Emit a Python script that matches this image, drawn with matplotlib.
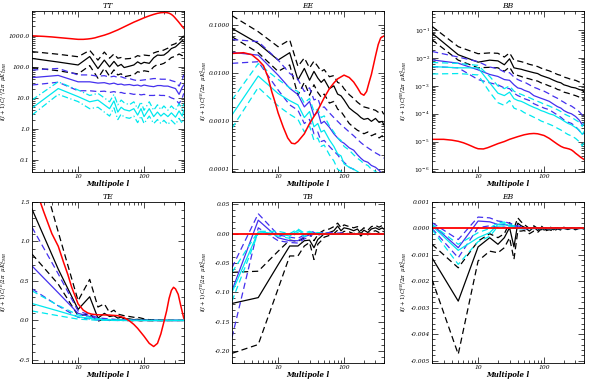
import matplotlib
matplotlib.use("Agg")
import matplotlib.pyplot as plt
from matplotlib.ticker import FixedLocator, FixedFormatter, AutoMinorLocator, NullFormatter, LogLocator

# multipole bins of the measured spectra and of the model curve
ell = [2, 5, 10, 15, 20, 25, 30, 35, 40, 45, 50, 60, 70, 80, 90, 100,
       120, 140, 160, 180, 200, 230, 260, 300, 340, 380, 400]
ell_th = [2, 3, 4, 5, 6, 7, 8, 9, 10, 12, 14, 16, 18, 20, 25, 30, 40, 50, 60, 70,
          80, 100, 120, 140, 160, 180, 200, 220, 240, 260, 280, 300, 330, 360, 400]

# ---- TT ----
tt_model = [1000, 960, 920, 880, 850, 825, 805, 785, 770, 770, 790, 820, 860, 920, 1050, 1200,
            1550, 1950, 2350, 2750, 3100, 3800, 4400, 4900, 5300, 5550, 5650, 5600, 5350, 4900,
            4300, 3650, 2900, 2300, 1750]
tt_black = [187, 143, 115, 215, 88, 165, 100, 150, 105, 120, 95, 105, 115, 145, 125, 140,
            130, 195, 240, 235, 240, 300, 390, 440, 560, 700, 650]
tt_black_hi = [310, 255, 212, 340, 165, 300, 190, 260, 190, 200, 180, 185, 195, 230, 215, 240,
               230, 280, 310, 320, 350, 400, 500, 560, 700, 900, 1000]
tt_black_lo = [94, 75, 59, 110, 43, 90, 50, 80, 55, 60, 48, 52, 55, 70, 65, 75,
               70, 100, 120, 120, 130, 160, 200, 220, 260, 230, 300]
tt_blue = [45, 53, 33, 33, 30, 31, 28, 30, 27, 28, 26, 27, 25, 26, 24, 26,
           24, 23, 25, 25, 24, 24, 22, 20, 13, 22, 26]
tt_blue_hi = [79, 89, 55, 55, 50, 52, 47, 50, 46, 48, 44, 42, 38, 36, 37, 38,
              40, 42, 42, 40, 40, 40, 36, 33, 24, 40, 55]
tt_blue_lo = [26, 32, 17, 17, 16, 16.5, 15, 16, 14.5, 15, 14, 14, 13, 13.5, 12.5, 13,
              12, 12, 12.5, 12, 12, 11.5, 10, 9, 6.5, 10, 14]
tt_cyan = [4.7, 20, 11, 7.5, 8.5, 6, 4.5, 8, 3.5, 5, 4.2, 3.8, 4.5, 2.8, 4.5, 2.5,
           4.5, 2.5, 3.5, 2.6, 3.2, 2.5, 3.3, 2.4, 3.8, 2.6, 4]
tt_cyan_hi = [8.6, 33, 18, 12, 14, 10, 7.5, 13, 6, 8.5, 7, 6, 7.5, 4.5, 7.5, 4,
              7.5, 4, 6, 4.2, 5.5, 4, 5.5, 4, 6.5, 4.3, 6.5]
tt_cyan_lo = [2.8, 13, 7.6, 4.5, 5, 3.5, 2.6, 4.8, 2, 3, 2.4, 2.2, 2.6, 1.6, 2.6, 1.5,
              2.6, 1.5, 2, 1.5, 1.9, 1.4, 1.9, 1.4, 2.2, 1.5, 2.4]

# ---- EE ----
ee_model = [0.026, 0.027, 0.0245, 0.019, 0.0145, 0.0085, 0.0042, 0.0025, 0.0015, 0.00075,
            0.00045, 0.00035, 0.00034, 0.00038, 0.00055, 0.0009, 0.0017, 0.0031, 0.0048, 0.0063,
            0.0077, 0.0092, 0.0082, 0.0066, 0.005, 0.0038, 0.0035, 0.0042, 0.0065, 0.0095,
            0.015, 0.023, 0.04, 0.055, 0.06]
ee_black = [0.087, 0.042, 0.019, 0.027, 0.0073, 0.0127, 0.0072, 0.011, 0.008, 0.0065, 0.0075,
            0.0048, 0.0055, 0.0037, 0.0034, 0.0028, 0.0019, 0.0016, 0.0014, 0.0012, 0.0011,
            0.00115, 0.001, 0.00115, 0.00095, 0.001, 0.00085]
ee_black_hi = [0.16, 0.074, 0.036, 0.05, 0.014, 0.021, 0.013, 0.018, 0.014, 0.011, 0.012,
               0.0085, 0.009, 0.0065, 0.006, 0.0048, 0.0036, 0.003, 0.0025, 0.0022, 0.002,
               0.0019, 0.0018, 0.0017, 0.0015, 0.0016, 0.0014]
ee_black_lo = [0.058, 0.027, 0.011, 0.015, 0.0035, 0.0065, 0.0035, 0.0058, 0.004, 0.0032, 0.0037,
               0.0024, 0.0026, 0.0018, 0.0016, 0.0013, 0.0009, 0.00075, 0.00065, 0.0006, 0.00055,
               0.0006, 0.0005, 0.00055, 0.00045, 0.0005, 0.00042]
ee_blue = [0.0274, 0.024, 0.0092, 0.0049, 0.0036, 0.002, 0.0026, 0.0013, 0.0016, 0.0009, 0.001,
           0.00075, 0.00055, 0.00045, 0.00038, 0.00035, 0.00028, 0.00025, 0.0002, 0.00017,
           0.00015, 0.00014, 0.00012, 0.00011, 0.000095, 0.00008, 0.00007]
ee_blue_hi = [0.051, 0.046, 0.019, 0.01, 0.0075, 0.0042, 0.005, 0.0028, 0.003, 0.0019, 0.002,
              0.0015, 0.0012, 0.001, 0.00085, 0.00075, 0.0006, 0.0005, 0.00042, 0.00036,
              0.00032, 0.00028, 0.00025, 0.00022, 0.0002, 0.00018, 0.00017]
ee_blue_lo = [0.0162, 0.0175, 0.0045, 0.0022, 0.0017, 0.0009, 0.0011, 0.00055, 0.0006, 0.00038,
              0.0004, 0.0003, 0.00024, 0.0002, 0.00016, 0.00014, 0.00011, 0.0001, 0.00008,
              0.00007, 0.00006, 0.00005, 0.00004, 0.00004, 0.00003, 0.00003, 0.00003]
ee_cyan = [0.00136, 0.0088, 0.0038, 0.0027, 0.0022, 0.0012, 0.0016, 0.00077, 0.0009, 0.0006,
           0.00065, 0.00041, 0.0003, 0.00021, 0.00019, 0.00013, 0.00011, 0.0001, 0.00009,
           0.00008, 0.00007, 0.00006, 0.00005, 0.00005, 0.00004, 0.00004, 0.00003]
ee_cyan_hi = [0.0028, 0.016, 0.0075, 0.005, 0.0042, 0.0024, 0.003, 0.0016, 0.0018, 0.0012,
              0.0013, 0.0008, 0.0006, 0.00045, 0.0004, 0.0003, 0.00025, 0.0002, 0.00017,
              0.00015, 0.00013, 0.00012, 0.0001, 0.00009, 0.00008, 0.00007, 0.00006]
ee_cyan_lo = [0.00072, 0.0051, 0.0021, 0.0014, 0.0011, 0.0006, 0.0008, 0.0004, 0.00045, 0.0003,
              0.00032, 0.0002, 0.00015, 0.0001, 0.00009, 0.00007, 0.00006, 0.00005, 0.00004,
              0.00004, 0.00003, 0.00003, 0.00002, 0.00002, 0.00002, 0.00002, 0.00002]

# ---- BB ----
bb_model = [1.2e-5, 1.2e-5, 1.12e-5, 1.02e-5, 9e-6, 7.8e-6, 6.8e-6, 6e-6, 5.5e-6, 5.4e-6,
            6e-6, 6.8e-6, 7.6e-6, 8.4e-6, 1.0e-5, 1.2e-5, 1.5e-5, 1.75e-5, 1.9e-5, 1.95e-5,
            1.9e-5, 1.65e-5, 1.3e-5, 1.0e-5, 8e-6, 6.7e-6, 6e-6, 5.7e-6, 5.4e-6, 5e-6,
            4.4e-6, 3.8e-6, 3.2e-6, 2.7e-6, 2.3e-6]
bb_black = [0.08, 0.0133, 0.0072, 0.0085, 0.008, 0.0058, 0.0095, 0.0045, 0.0042, 0.004, 0.0037,
            0.0033, 0.003, 0.0028, 0.0024, 0.0022, 0.0019, 0.0016, 0.0014, 0.0013, 0.0011,
            0.001, 0.0009, 0.00085, 0.00075, 0.0007, 0.00062]
bb_black_hi = [0.14, 0.026, 0.0145, 0.0155, 0.015, 0.011, 0.0155, 0.0085, 0.008, 0.0075, 0.007,
               0.006, 0.0055, 0.005, 0.0044, 0.004, 0.0035, 0.003, 0.0026, 0.0024, 0.0021,
               0.0019, 0.0017, 0.0016, 0.0014, 0.0013, 0.0011]
bb_black_lo = [0.046, 0.0085, 0.0045, 0.0047, 0.0045, 0.0034, 0.0048, 0.0026, 0.0024, 0.0022,
               0.002, 0.0018, 0.0016, 0.0015, 0.0013, 0.0012, 0.001, 0.0009, 0.00075, 0.0007,
               0.0006, 0.00055, 0.0005, 0.00045, 0.0004, 0.00038, 0.00032]
bb_blue = [0.0087, 0.0066, 0.0038, 0.0026, 0.0022, 0.0017, 0.0016, 0.0011, 0.00085, 0.0008,
           0.0007, 0.0006, 0.00045, 0.0004, 0.00036, 0.00033, 0.00028, 0.00022, 0.00018,
           0.00016, 0.00013, 0.00011, 0.0001, 0.00008, 0.00006, 0.00004, 0.000045]
bb_blue_hi = [0.0175, 0.011, 0.0075, 0.0048, 0.0042, 0.0032, 0.003, 0.0021, 0.0017, 0.0015,
              0.0014, 0.0011, 0.0009, 0.0008, 0.0007, 0.00065, 0.00052, 0.00042, 0.00036,
              0.0003, 0.00026, 0.00021, 0.00019, 0.00015, 0.00012, 0.00009, 0.0001]
bb_blue_lo = [0.005, 0.0045, 0.0017, 0.0013, 0.0011, 0.00085, 0.0008, 0.00055, 0.00045, 0.0004,
              0.00035, 0.0003, 0.00023, 0.0002, 0.00018, 0.00016, 0.00014, 0.00011, 0.00009,
              0.000075, 0.00006, 0.00005, 0.000045, 0.000035, 0.000025, 0.000018, 0.00002]
bb_cyan = [0.005, 0.0045, 0.0045, 0.0013, 0.00055, 0.00045, 0.0006, 0.00035, 0.0003, 0.00028,
           0.00025, 0.0002, 0.00017, 0.00015, 0.00013, 0.00012, 0.0001, 0.00009, 0.000075,
           0.000065, 0.000055, 0.000045, 0.00004, 0.000032, 0.000026, 0.000018, 0.000022]
bb_cyan_hi = [0.007, 0.0065, 0.0055, 0.0022, 0.001, 0.0008, 0.001, 0.00065, 0.00055, 0.0005,
              0.00045, 0.00038, 0.00032, 0.00028, 0.00025, 0.00022, 0.00019, 0.00016, 0.00014,
              0.00012, 0.0001, 0.000085, 0.000075, 0.00006, 0.00005, 0.000035, 0.000045]
bb_cyan_lo = [0.0027, 0.0028, 0.0025, 0.0006, 0.00025, 0.0002, 0.0003, 0.00016, 0.00014, 0.00013,
              0.00011, 0.00009, 0.000075, 0.000065, 0.000055, 0.00005, 0.000042, 0.000036,
              0.00003, 0.000026, 0.000022, 0.000018, 0.000016, 0.000013, 0.00001, 0.000007, 0.000009]

# ---- TE ----
te_model = [1.8, 1.38, 1.1, 0.94, 0.74, 0.58, 0.42, 0.31, 0.21, 0.13, 0.095, 0.08, 0.075, 0.072,
            0.07, 0.068, 0.06, 0.035, -0.005, -0.05, -0.1, -0.2, -0.29, -0.33, -0.29, -0.17,
            -0.02, 0.12, 0.28, 0.38, 0.42, 0.4, 0.33, 0.19, 0.03]
te_black = [1.41, 0.65, 0.14, 0.30, 0.03, 0.09, 0.05, 0.06, 0.03, 0.04, 0.02, 0.02, 0.01, 0.015,
            0.005, 0.01, 0.003, 0.0, 0.002, 0.0, 0.001, 0.0, 0.0, 0.0, 0.0, 0.0, 0.0]
te_black_hi = [2.3, 1.12, 0.25, 0.52, 0.17, 0.21, 0.1, 0.13, 0.08, 0.07, 0.06, 0.05, 0.04, 0.04,
               0.03, 0.02, 0.01, 0.01, 0.005, 0.005, 0.003, 0.002, 0.002, 0.001, 0.001, 0.001, 0.001]
te_black_lo = [0.84, 0.46, 0.06, 0.08, -0.01, 0.02, 0.0, 0.01, 0.0, 0.005, -0.005, 0.0, -0.005,
               0.0, -0.005, 0.0, -0.003, -0.004, -0.002, -0.003, -0.002, -0.001, -0.001, -0.001,
               -0.001, 0.0, 0.0]
te_blue = [0.69, 0.35, 0.09, 0.05, 0.02, 0.015, 0.01, 0.008, 0.005, 0.004, 0.003, 0.002, 0.001,
           0.001, 0.0, 0.0, 0.0, 0.0, 0.0, 0.0, 0.0, 0.0, 0.0, 0.0, 0.0, 0.0, 0.0]
te_blue_hi = [1.18, 0.59, 0.12, 0.07, 0.035, 0.025, 0.02, 0.015, 0.01, 0.008, 0.006, 0.004, 0.003,
              0.002, 0.002, 0.001, 0.001, 0.001, 0.0, 0.0, 0.0, 0.0, 0.0, 0.0, 0.0, 0.0, 0.0]
te_blue_lo = [0.4, 0.185, 0.04, 0.02, 0.005, 0.004, 0.0, 0.001, 0.0, 0.0, 0.0, 0.0, -0.001, 0.0,
              -0.001, 0.0, 0.0, 0.0, 0.0, 0.0, 0.0, 0.0, 0.0, 0.0, 0.0, 0.0, 0.0]
te_cyan = [0.215, 0.12, 0.046, 0.025, 0.012, 0.008, 0.005, 0.004, 0.003, 0.002, 0.002, 0.001,
           0.001, 0.0, 0.0, 0.0, 0.0, 0.0, 0.0, 0.0, 0.0, 0.0, 0.0, 0.0, 0.0, 0.0, 0.0]
te_cyan_hi = [0.375, 0.19, 0.07, 0.04, 0.02, 0.014, 0.01, 0.008, 0.006, 0.004, 0.004, 0.003,
              0.002, 0.001, 0.001, 0.001, 0.0, 0.0, 0.0, 0.0, 0.0, 0.0, 0.0, 0.0, 0.0, 0.0, 0.0]
te_cyan_lo = [0.12, 0.06, 0.017, 0.008, 0.003, 0.002, 0.001, 0.0, 0.0, 0.0, 0.0, 0.0, 0.0, 0.0,
              0.0, 0.0, 0.0, 0.0, 0.0, 0.0, 0.0, 0.0, 0.0, 0.0, 0.0, 0.0, 0.0]

# ---- TB ----
tb_model = 0.0
tb_black = [-0.119, -0.109, -0.053, -0.021, -0.021, -0.012, -0.011, -0.024, -0.01, -0.005, 0.0,
            0.002, 0.005, 0.013, 0.005, 0.01, 0.008, 0.005, 0.008, 0.0, 0.006, 0.002, 0.008,
            0.01, 0.007, 0.01, 0.008]
tb_black_hi = [-0.066, -0.064, -0.03, -0.011, -0.013, -0.007, 0.0, -0.012, -0.002, 0.003, 0.006,
               0.008, 0.012, 0.018, 0.01, 0.015, 0.012, 0.01, 0.012, 0.005, 0.01, 0.006, 0.012,
               0.014, 0.011, 0.014, 0.012]
tb_black_lo = [-0.204, -0.189, -0.094, -0.038, -0.038, -0.021, -0.015, -0.044, -0.018, -0.012,
               -0.006, -0.003, 0.0, 0.006, 0.0, 0.004, 0.003, 0.0, 0.003, -0.004, 0.001, -0.002,
               0.003, 0.005, 0.002, 0.005, 0.003]
tb_blue = [-0.097, 0.023, -0.007, -0.012, -0.012, -0.005, -0.002, 0.002, -0.001, 0.001, 0.0,
           0.001, 0.0, 0.0, 0.001, 0.0, 0.0, 0.0, 0.0, 0.0, 0.0, 0.0, 0.0, 0.0, 0.0, 0.0, 0.0]
tb_blue_hi = [-0.058, 0.034, -0.002, -0.006, -0.008, -0.002, 0.001, 0.004, 0.001, 0.002, 0.001,
              0.002, 0.001, 0.001, 0.001, 0.001, 0.0, 0.0, 0.0, 0.0, 0.0, 0.0, 0.0, 0.0, 0.0, 0.0, 0.0]
tb_blue_lo = [-0.177, 0.01, -0.012, -0.015, -0.016, -0.009, -0.005, 0.0, -0.003, -0.001, -0.001,
              0.0, -0.001, -0.001, 0.0, 0.0, 0.0, 0.0, 0.0, 0.0, 0.0, 0.0, 0.0, 0.0, 0.0, 0.0, 0.0]
tb_cyan = [-0.1, 0.003, 0.0, -0.004, 0.006, -0.002, 0.002, 0.0, 0.001, 0.0, 0.0, 0.0, 0.0, 0.0,
           0.0, 0.0, 0.0, 0.0, 0.0, 0.0, 0.0, 0.0, 0.0, 0.0, 0.0, 0.0, 0.0]
tb_cyan_hi = [-0.066, 0.004, 0.004, 0.0, 0.008, 0.001, 0.004, 0.001, 0.002, 0.001, 0.001, 0.0,
              0.0, 0.0, 0.0, 0.0, 0.0, 0.0, 0.0, 0.0, 0.0, 0.0, 0.0, 0.0, 0.0, 0.0, 0.0]
tb_cyan_lo = [-0.115, 0.001, -0.004, -0.008, 0.003, -0.005, 0.0, -0.001, 0.0, -0.001, 0.0, 0.0,
              0.0, 0.0, 0.0, 0.0, 0.0, 0.0, 0.0, 0.0, 0.0, 0.0, 0.0, 0.0, 0.0, 0.0, 0.0]

# ---- EB ----
eb_model = 0.0
eb_black = [-0.00111, -0.00275, -0.0007, -0.00035, -0.0006, -0.00035, 0.00003, -0.0007, 0.0002,
            0.0001, 0.00005, -0.0001, 0.00005, -0.00008, 0.00003, -0.00006, 0.0, -0.00005,
            0.00003, -0.00003, 0.00004, -0.00002, 0.00002, -0.00003, 0.00002, 0.0, -0.00002]
eb_black_hi = [-0.0006, -0.00149, -0.00048, -0.0002, -0.00035, -0.0002, 0.00022, 0.0, 0.0004,
               0.00025, 0.00015, 0.0, 0.0001, 0.0, 0.0001, 0.0, 0.00006, 0.0, 0.00005, 0.0,
               0.00004, 0.0, 0.00003, 0.0, 0.00003, 0.0, 0.00002]
eb_black_lo = [-0.00193, -0.00476, -0.00123, -0.00086, -0.00092, -0.00073, -0.00035, -0.00117,
               -0.0001, -0.0001, -0.00008, -0.0002, -0.0001, -0.00015, -0.00003, -0.0001,
               -0.00005, -0.0001, -0.00002, -0.00006, 0.0, -0.00004, 0.0, -0.00005, 0.0,
               -0.00003, -0.00004]
eb_blue = [0.00015, -0.00073, 0.00028, 0.00025, 0.00015, 0.00015, 0.0001, 0.00009, 0.00005,
           0.00003, 0.0, 0.0, 0.0, 0.0, 0.0, 0.0, 0.0, 0.0, 0.0, 0.0, 0.0, 0.0, 0.0, 0.0, 0.0, 0.0, 0.0]
eb_blue_hi = [0.00022, -0.00042, 0.00043, 0.0004, 0.00028, 0.00025, 0.0002, 0.00015, 0.0001,
              0.00006, 0.00003, 0.00002, 0.0, 0.0, 0.0, 0.0, 0.0, 0.0, 0.0, 0.0, 0.0, 0.0, 0.0,
              0.0, 0.0, 0.0, 0.0]
eb_blue_lo = [0.0, -0.00111, 0.00003, 0.0001, 0.00005, 0.00005, 0.0, 0.00002, 0.0, 0.0, -0.00002,
              0.0, 0.0, 0.0, 0.0, 0.0, 0.0, 0.0, 0.0, 0.0, 0.0, 0.0, 0.0, 0.0, 0.0, 0.0, 0.0]
eb_cyan = [0.0001, -0.00083, -0.00035, -0.00016, 0.00015, 0.00018, 0.0001, 0.00005, 0.00003,
           0.0, 0.0, 0.0, 0.0, 0.0, 0.0, 0.0, 0.0, 0.0, 0.0, 0.0, 0.0, 0.0, 0.0, 0.0, 0.0, 0.0, 0.0]
eb_cyan_hi = [0.00015, -0.0006, -0.00016, 0.0, 0.00022, 0.00024, 0.00015, 0.0001, 0.00005, 0.00002,
              0.0, 0.0, 0.0, 0.0, 0.0, 0.0, 0.0, 0.0, 0.0, 0.0, 0.0, 0.0, 0.0, 0.0, 0.0, 0.0, 0.0]
eb_cyan_lo = [-0.00004, -0.00136, -0.0005, -0.0003, 0.00008, 0.0001, 0.00005, 0.0, 0.0, -0.00002,
              0.0, 0.0, 0.0, 0.0, 0.0, 0.0, 0.0, 0.0, 0.0, 0.0, 0.0, 0.0, 0.0, 0.0, 0.0, 0.0, 0.0]

RED = "#ff0000"
BLUE = "#4430ee"
CYAN = "#00e8ee"
DASH = (0, (5, 3))
DASHDOT = (0, (5, 2, 1, 2))

plt.rcParams["font.family"] = ["DejaVu Serif"]
plt.rcParams["mathtext.fontset"] = "dejavuserif"

fig = plt.figure(figsize=(5.99, 3.82), dpi=100)
W, H = 599.0, 382.0
lefts = [32, 232, 432]
tops = [11, 202]
aw, ah = 152.3, 160.7


def make_ax(col, row):
    x0 = lefts[col] / W
    y0 = 1 - (tops[row] + ah) / H
    ax = fig.add_axes([x0, y0, aw / W, ah / H])
    ax.set_xscale("log")
    ax.set_xlim(2, 408)
    ax.xaxis.set_major_locator(FixedLocator([10, 100]))
    ax.xaxis.set_major_formatter(FixedFormatter(["10", "100"]))
    ax.xaxis.set_minor_locator(LogLocator(base=10, subs=range(2, 10)))
    ax.xaxis.set_minor_formatter(NullFormatter())
    ax.tick_params(which="both", direction="in", top=True, right=True, labelsize=4.3,
                   width=0.5, pad=1.5)
    ax.tick_params(which="major", length=4)
    ax.tick_params(which="minor", length=2)
    for s in ax.spines.values():
        s.set_linewidth(0.6)
    ax.set_xlabel("Multipole l", fontsize=5, fontweight="bold", style="italic", labelpad=1)
    return ax


def draw(ax, model_x, model_y, groups):
    for color, mid, hi, lo, ls in groups:
        ax.plot(ell, hi, color=color, lw=0.9, ls=ls)
        ax.plot(ell, lo, color=color, lw=0.9, ls=ls)
        ax.plot(ell, mid, color=color, lw=0.9)
    if model_x is None:
        ax.axhline(model_y, color=RED, lw=1.3)
    else:
        ax.plot(model_x, model_y, color=RED, lw=1.1)


def style_labels(ax, title, spec):
    ax.set_title(title, fontsize=5.5, style="italic", pad=2)
    ax.set_ylabel(r"$l(l+1)C_l^{%s}/2\pi\ \ \mu K^2_{CMB}$" % spec, fontsize=4.0)
    ax.yaxis.set_label_coords(-0.148, 0.5)
    for lab in ax.get_xticklabels() + ax.get_yticklabels():
        lab.set_style("italic")


# TT
ax = make_ax(0, 0)
draw(ax, ell_th, tt_model, [
    ("black", tt_black, tt_black_hi, tt_black_lo, DASH),
    (BLUE, tt_blue, tt_blue_hi, tt_blue_lo, DASH),
    (CYAN, tt_cyan, tt_cyan_hi, tt_cyan_lo, DASHDOT)])
ax.set_yscale("log")
ax.set_ylim(0.042, 6300)
ax.yaxis.set_major_locator(FixedLocator([0.1, 1, 10, 100, 1000]))
ax.yaxis.set_major_formatter(FixedFormatter(["0.1", "1.0", "10.0", "100.0", "1000.0"]))
ax.yaxis.set_minor_locator(LogLocator(base=10, subs=range(2, 10)))
ax.yaxis.set_minor_formatter(NullFormatter())
style_labels(ax, "TT", "TT")

# EE
ax = make_ax(1, 0)
draw(ax, ell_th, ee_model, [
    ("black", ee_black, ee_black_hi, ee_black_lo, DASH),
    (BLUE, ee_blue, ee_blue_hi, ee_blue_lo, DASH),
    (CYAN, ee_cyan, ee_cyan_hi, ee_cyan_lo, DASH)])
ax.set_yscale("log")
ax.set_ylim(8.9e-5, 0.2)
ax.yaxis.set_major_locator(FixedLocator([1e-4, 1e-3, 1e-2, 1e-1]))
ax.yaxis.set_major_formatter(FixedFormatter(["0.0001", "0.0010", "0.0100", "0.1000"]))
ax.yaxis.set_minor_locator(LogLocator(base=10, subs=range(2, 10)))
ax.yaxis.set_minor_formatter(NullFormatter())
style_labels(ax, "EE", "EE")

# BB
ax = make_ax(2, 0)
draw(ax, ell_th, bb_model, [
    ("black", bb_black, bb_black_hi, bb_black_lo, DASH),
    (BLUE, bb_blue, bb_blue_hi, bb_blue_lo, DASH),
    (CYAN, bb_cyan, bb_cyan_hi, bb_cyan_lo, DASH)])
ax.set_yscale("log")
ax.set_ylim(8.2e-7, 0.5)
ax.yaxis.set_major_locator(FixedLocator([1e-6, 1e-5, 1e-4, 1e-3, 1e-2, 1e-1]))
ax.yaxis.set_major_formatter(FixedFormatter([r"$10^{-6}$", r"$10^{-5}$", r"$10^{-4}$",
                                             r"$10^{-3}$", r"$10^{-2}$", r"$10^{-1}$"]))
ax.yaxis.set_minor_locator(LogLocator(base=10, subs=range(2, 10)))
ax.yaxis.set_minor_formatter(NullFormatter())
style_labels(ax, "BB", "BB")

# TE
ax = make_ax(0, 1)
draw(ax, ell_th, te_model, [
    ("black", te_black, te_black_hi, te_black_lo, DASH),
    (BLUE, te_blue, te_blue_hi, te_blue_lo, DASH),
    (CYAN, te_cyan, te_cyan_hi, te_cyan_lo, DASH)])
ax.set_ylim(-0.535, 1.5)
ax.yaxis.set_major_locator(FixedLocator([-0.5, 0.0, 0.5, 1.0, 1.5]))
ax.yaxis.set_major_formatter(FixedFormatter(["-0.5", "0.0", "0.5", "1.0", "1.5"]))
ax.yaxis.set_minor_locator(AutoMinorLocator(5))
style_labels(ax, "TE", "TE")

# TB
ax = make_ax(1, 1)
draw(ax, None, tb_model, [
    ("black", tb_black, tb_black_hi, tb_black_lo, DASH),
    (BLUE, tb_blue, tb_blue_hi, tb_blue_lo, DASH),
    (CYAN, tb_cyan, tb_cyan_hi, tb_cyan_lo, DASH)])
ax.set_ylim(-0.22, 0.054)
ax.yaxis.set_major_locator(FixedLocator([-0.2, -0.15, -0.1, -0.05, 0.0, 0.05]))
ax.yaxis.set_major_formatter(FixedFormatter(["-0.20", "-0.15", "-0.10", "-0.05", "0.00", "0.05"]))
ax.yaxis.set_minor_locator(AutoMinorLocator(5))
style_labels(ax, "TB", "TB")

# EB
ax = make_ax(2, 1)
draw(ax, None, eb_model, [
    ("black", eb_black, eb_black_hi, eb_black_lo, DASH),
    (BLUE, eb_blue, eb_blue_hi, eb_blue_lo, DASH),
    (CYAN, eb_cyan, eb_cyan_hi, eb_cyan_lo, DASH)])
ax.set_ylim(-0.00508, 0.001)
ax.yaxis.set_major_locator(FixedLocator([-0.005, -0.004, -0.003, -0.002, -0.001, 0.0, 0.001]))
ax.yaxis.set_major_formatter(FixedFormatter(["-0.005", "-0.004", "-0.003", "-0.002",
                                             "-0.001", "0.000", "0.001"]))
ax.yaxis.set_minor_locator(AutoMinorLocator(5))
style_labels(ax, "EB", "EB")

fig.savefig("out.png", dpi=100)
